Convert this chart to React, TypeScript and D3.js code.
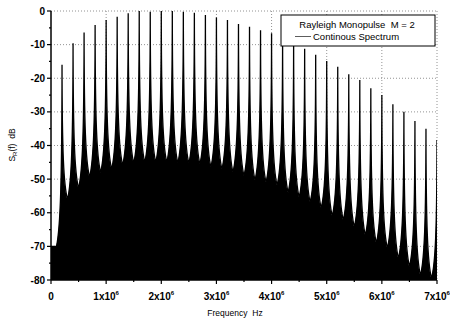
import React from "react";
import * as d3 from "d3";

const width = 450, height = 325;
const marginLeft = 51, marginRight = 13, marginTop = 11, marginBottom = 45;

// spectral lines (MHz) and their levels (dB)
const lineFreqs = [
  0.2, 0.4, 0.6, 0.8, 1.0, 1.2, 1.4, 1.6, 1.8, 2.0,
  2.2, 2.4, 2.6, 2.8, 3.0, 3.2, 3.4, 3.6, 3.8, 4.0,
  4.2, 4.4, 4.6, 4.8, 5.0, 5.2, 5.4, 5.6, 5.8, 6.0,
  6.2, 6.4, 6.6, 6.8, 7.0,
];
const lineLevels = [
  -16, -9.6, -6.4, -4.2, -2.7, -1.7, -0.7, 0, -0.2, 0,
  0, -0.2, -0.5, -1.2, -1.9, -2.7, -3.9, -4.7, -5.7, -6.6,
  -8, -9.5, -11.2, -13, -14.9, -16.6, -18.8, -20.5, -23, -25,
  -27.7, -30, -32.7, -35, -38.4,
];

// continuous spectrum floor, read at the dips between lines
const floorFreqs = [
  0.1, 0.3, 0.5, 0.7, 0.9, 1.1, 1.3, 1.5, 1.7, 1.9,
  2.1, 2.3, 2.5, 2.7, 2.9, 3.1, 3.3, 3.5, 3.7, 3.9,
  4.1, 4.3, 4.5, 4.7, 4.9, 5.1, 5.3, 5.5, 5.7, 5.9,
  6.1, 6.3, 6.5, 6.7, 6.9,
];
const floorLevels = [
  -70, -56, -52.7, -49.4, -48, -47, -45.8, -45.2, -45, -45,
  -45, -45.2, -45.3, -45.5, -46.4, -47, -47.9, -49, -50.3, -50.9,
  -51.8, -54, -55.4, -56.8, -58.6, -61, -62.2, -64.2, -66.7, -69,
  -70.5, -73.5, -76, -78.6, -79.5,
];
const dcLevel = -70;

const yTicks = [0, -10, -20, -30, -40, -50, -60, -70, -80];
const yMinor = [-5, -15, -25, -35, -45, -55, -65, -75];
const xTicks = [0, 1, 2, 3, 4, 5, 6, 7];
const xMinor = [0.5, 1.5, 2.5, 3.5, 4.5, 5.5, 6.5];
const xTickLabels = ["0", "1x10", "2x10", "3x10", "4x10", "5x10", "6x10", "7x10"];

export default function App() {
  const x = d3.scaleLinear().domain([0, 7]).range([marginLeft, width - marginRight]);
  const y = d3.scaleLinear().domain([-80, 0]).range([height - marginBottom, marginTop]);
  const x0 = x.range()[0], x1 = x.range()[1];
  const yb = y(-80), yt = y(0);

  // build the spectrum outline: each line is a sharp spike on top of the floor
  const p = d3.path();
  p.moveTo(x(0), yb);
  p.lineTo(x(0), y(dcLevel));
  p.lineTo(x(floorFreqs[0]), y(floorLevels[0]));
  lineFreqs.forEach((f, i) => {
    const xv = x(floorFreqs[i]), yv = y(floorLevels[i]);
    const xp = x(f), yp = y(lineLevels[i]);
    p.bezierCurveTo(xv + 0.7 * (xp - xv), yv + 0.1 * (yp - yv),
      xv + 0.98 * (xp - xv), yv + 0.35 * (yp - yv), xp, yp);
    if (i + 1 < floorFreqs.length) {
      const xn = x(floorFreqs[i + 1]), yn = y(floorLevels[i + 1]);
      p.bezierCurveTo(xn + 0.98 * (xp - xn), yn + 0.35 * (yp - yn),
        xn + 0.7 * (xp - xn), yn + 0.1 * (yp - yn), xn, yn);
    } else {
      p.lineTo(xp, yb);
    }
  });
  p.lineTo(x(7), yb);
  p.closePath();

  const tickFont = { fontFamily: "Liberation Sans, Arial, sans-serif", fontWeight: 700, fontSize: 10 };
  const font = "Liberation Sans, Arial, sans-serif";

  return (
    <svg width={width} height={height} style={{ position: "absolute", left: 0, top: 0, background: "#fff" }}>
      <defs>
        <clipPath id="plot">
          <rect x={x0} y={yt - 2} width={x1 - x0} height={yb - yt + 2} />
        </clipPath>
      </defs>

      {/* grid */}
      <g stroke="#777" strokeWidth={0.8} strokeDasharray="1,2">
        {yTicks.filter(d => d > -80).map(d => (
          <line key={"gy" + d} x1={x0} x2={x1} y1={y(d)} y2={y(d)} />
        ))}
        {xTicks.filter(d => d > 0).map(d => (
          <line key={"gx" + d} x1={x(d)} x2={x(d)} y1={yt} y2={yb} />
        ))}
      </g>

      <path d={p.toString()} fill="#000" stroke="#000" strokeWidth={1.3}
        strokeLinejoin="miter" clipPath="url(#plot)" />

      {/* axes */}
      <line x1={x0} x2={x0} y1={yt} y2={yb} stroke="#000" strokeWidth={1.5} />
      <line x1={x0} x2={x1} y1={yb} y2={yb} stroke="#000" strokeWidth={1.5} />
      <g stroke="#000" strokeWidth={1.2}>
        {yTicks.map(d => <line key={"ty" + d} x1={x0 - 4} x2={x0} y1={y(d)} y2={y(d)} />)}
        {yMinor.map(d => <line key={"my" + d} x1={x0 - 2} x2={x0} y1={y(d)} y2={y(d)} />)}
        {xTicks.map(d => <line key={"tx" + d} x1={x(d)} x2={x(d)} y1={yb} y2={yb + 4} />)}
        {xMinor.map(d => <line key={"mx" + d} x1={x(d)} x2={x(d)} y1={yb} y2={yb + 2} />)}
      </g>

      {yTicks.map(d => (
        <text key={"ly" + d} x={x0 - 6} y={y(d)} dy="0.36em" textAnchor="end" style={tickFont}>{d}</text>
      ))}
      {xTicks.map((d, i) => (
        <text key={"lx" + d} x={x(d)} y={yb + 20} textAnchor="middle" style={tickFont}>
          {xTickLabels[i]}
          {i > 0 && <tspan fontSize={6} dy={-5}>6</tspan>}
        </text>
      ))}

      <text x={235} y={316} textAnchor="middle" fontFamily={font} fontSize={8.5}>Frequency{"\u00a0\u00a0"}Hz</text>
      <text transform="translate(15,145) rotate(-90)" textAnchor="middle" fontFamily={font} fontSize={8.5}>
        S<tspan fontSize={6} dy={2}>R</tspan><tspan dy={-2}>(f){"\u00a0\u00a0"}dB</tspan>
      </text>

      {/* legend */}
      <rect x={281} y={15} width={154} height={31} fill="#fff" stroke="#000" strokeWidth={1} />
      <text x={357} y={28} textAnchor="middle" fontFamily={font} fontSize={9.5}>Rayleigh Monopulse{"\u00a0\u00a0"}M = 2</text>
      <line x1={295} x2={311} y1={36.5} y2={36.5} stroke="#333" strokeWidth={0.8} />
      <text x={313} y={40} fontFamily={font} fontSize={9.5}>Continous Spectrum</text>
    </svg>
  );
}
